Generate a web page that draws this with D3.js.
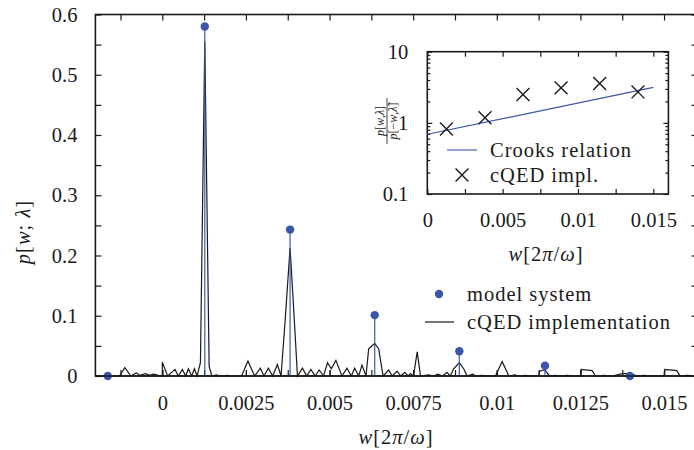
<!DOCTYPE html>
<html>
<head>
<meta charset="utf-8">
<script src="https://cdn.jsdelivr.net/npm/d3@7"></script>
<style>
  body { margin: 0; background: #fff; }
  svg text { font-family: "Liberation Serif", "Times New Roman", serif; font-size: 20.5px; fill: #1a1a1a; }
  svg text.lbl { letter-spacing: 1px; }
  .frac text { font-size: 12px; letter-spacing: 0; }
</style>
</head>
<body>
<div id="chart"></div>
<script>
// model system: discrete peaks
const modelW = [-0.00163, 0.00127, 0.00382, 0.00635, 0.00888, 0.01144, 0.01398];
const modelP = [0, 0.58, 0.243, 0.101, 0.041, 0.017, 0];

// cQED implementation: sampled curve
const cqedW = [-0.002, -0.00128, -0.00112, -0.00094, -0.00078, -0.00066, -0.00051, -0.00038, -0.00026, -0.00012,
  0, 0, 0.00016, 0.00038, 0.00048, 0.0006, 0.0007, 0.00078, 0.00088, 0.00096, 0.00104,
  0.00114, 0.00127, 0.0014, 0.00148, 0.00162, 0.00172, 0.00195, 0.0021, 0.00237, 0.00256, 0.00276,
  0.00293, 0.00304, 0.00317, 0.0033, 0.00344, 0.00355, 0.00367, 0.00382, 0.00396, 0.00404,
  0.00419, 0.00432, 0.00444, 0.00457, 0.00469, 0.00482, 0.00494, 0.00505, 0.00519, 0.00537,
  0.00552, 0.00565, 0.00575, 0.00587, 0.00597, 0.00609, 0.00617, 0.00635, 0.00647, 0.0066,
  0.00677, 0.00687, 0.00702, 0.00713, 0.00725, 0.00735, 0.00742, 0.00751, 0.00762, 0.00772,
  0.00796, 0.0081, 0.00824, 0.00838, 0.00851, 0.00861, 0.00871, 0.00888, 0.00901, 0.00911,
  0.00928, 0.00938, 0.00955, 0.00971, 0.00996, 0.01016, 0.01036, 0.01054, 0.01066, 0.01085, 0.01106,
  0.01125, 0.01128, 0.01143, 0.01158, 0.01175, 0.0119, 0.0121, 0.01235, 0.0125, 0.01252, 0.01285, 0.01295,
  0.0132, 0.01345, 0.01375, 0.01402, 0.01418, 0.0144, 0.0147, 0.015, 0.01502, 0.01538, 0.01548, 0.0157, 0.016];
const cqedP = [0, 0, 0.014, 0, 0.005, 0.001, 0.004, 0.001, 0.003, 0.001,
  0, 0.023, 0, 0.011, 0, 0.011, 0, 0.012, 0, 0.012, 0,
  0.022, 0.555, 0.016, 0, 0.002, 0, 0.001, 0, 0, 0.025, 0,
  0.013, 0, 0.013, 0, 0.019, 0, 0.09, 0.213, 0.08, 0,
  0.013, 0, 0.011, 0, 0.01, 0, 0.022, 0.012, 0.026, 0,
  0.013, 0, 0.013, 0, 0.018, 0, 0.045, 0.054, 0.045, 0,
  0.01, 0, 0.008, 0, 0.006, 0, 0.004, 0, 0.04, 0,
  0.002, 0, 0.003, 0, 0.006, 0, 0.012, 0.022, 0.012, 0,
  0.003, 0, 0.001, 0, 0, 0.024, 0, 0.002, 0, 0.001, 0,
  0, 0.008, 0.01, 0, 0.001, 0, 0.001, 0, 0, 0.011, 0.009, 0,
  0.001, 0, 0.004, 0.004, 0, 0.001, 0, 0, 0.011, 0.009, 0, 0.001, 0];

// inset: ratio p[w]/p[-w]
const crooksW = [0, 0.015];
const crooksR = [0.69, 3.15];
const ratioW = [0.00127, 0.00383, 0.00635, 0.00888, 0.01144, 0.01398];
const ratioR = [0.82, 1.18, 2.5, 3.1, 3.57, 2.72];

// ticks
const xTicks = [0, 0.0025, 0.005, 0.0075, 0.01, 0.0125, 0.015];
const xTickLabels = ["0", "0.0025", "0.005", "0.0075", "0.01", "0.0125", "0.015"];
const xMinor = [-0.00125, 0, 0.00125, 0.0025, 0.00375, 0.005, 0.00625, 0.0075, 0.00875, 0.01, 0.01125, 0.0125, 0.01375, 0.015];
const yTicks = [0, 0.1, 0.2, 0.3, 0.4, 0.5, 0.6];
const yTickLabels = ["0", "0.1", "0.2", "0.3", "0.4", "0.5", "0.6"];
const yMinor = [0.05, 0.15, 0.25, 0.35, 0.45, 0.55];
const inXTicks = [0, 0.005, 0.01, 0.015];
const inXTickLabels = ["0", "0.005", "0.01", "0.015"];
const inXMinor = [0.0025, 0.0075, 0.0125];
const inYTicks = [0.1, 1, 10];
const inYTickLabels = ["0.1", "1", "10"];
const inYMinor = [0.2, 0.3, 0.4, 0.5, 0.6, 0.7, 0.8, 0.9, 2, 3, 4, 5, 6, 7, 8, 9];

const blue = "#3b55a8";

const svg = d3.select("#chart").append("svg")
    .attr("width", 694)
    .attr("height", 450);

const x = d3.scaleLinear().domain([-0.002, 0.016]).range([95.4, 697.5]);
const y = d3.scaleLinear().domain([0, 0.6]).range([376, 14.5]);

function clean(g) {
    g.attr("font-family", null).attr("font-size", null);
    g.select(".domain").remove();
    g.selectAll("line").attr("stroke", "#1a1a1a").attr("stroke-width", 1.2);
}

function mathLabel(sel) {
    // w[2π/ω]
    sel.append("tspan").attr("font-style", "italic").text("w");
    sel.append("tspan").text("[2");
    sel.append("tspan").attr("font-style", "italic").text("π");
    sel.append("tspan").text("/");
    sel.append("tspan").attr("font-style", "italic").text("ω");
    sel.append("tspan").text("]");
}

// main axes
svg.append("g").attr("transform", "translate(0,376)")
    .call(d3.axisBottom(x).tickValues(xTicks).tickFormat((d, i) => xTickLabels[i]).tickSize(-6).tickPadding(19))
    .call(clean);
svg.append("g").attr("transform", "translate(0,376)")
    .call(d3.axisBottom(x).tickValues(xMinor).tickFormat("").tickSize(-6))
    .call(clean);
svg.append("g").attr("transform", "translate(0,14.5)")
    .call(d3.axisTop(x).tickValues(xMinor).tickFormat("").tickSize(-6))
    .call(clean);
svg.append("g").attr("transform", "translate(95.4,0)")
    .call(d3.axisLeft(y).tickValues(yTicks).tickFormat((d, i) => yTickLabels[i]).tickSize(-6).tickPadding(18))
    .call(clean);
svg.append("g").attr("transform", "translate(95.4,0)")
    .call(d3.axisLeft(y).tickValues(yMinor).tickFormat("").tickSize(-6))
    .call(clean);
svg.append("g").attr("transform", "translate(697.5,0)")
    .call(d3.axisRight(y).tickValues(yTicks.concat(yMinor)).tickFormat("").tickSize(-6))
    .call(clean);

svg.append("rect")
    .attr("x", x.range()[0]).attr("y", y.range()[1])
    .attr("width", x.range()[1] - x.range()[0])
    .attr("height", y.range()[0] - y.range()[1])
    .attr("fill", "none").attr("stroke", "#1a1a1a").attr("stroke-width", 1.6);

// cQED curve
const cqed = cqedW.map((w, i) => [w, cqedP[i]]);
svg.append("path")
    .datum(cqed)
    .attr("fill", "none")
    .attr("stroke", "#1a1a1a")
    .attr("stroke-width", 1.2)
    .attr("d", d3.line().x(d => x(d[0])).y(d => y(d[1])));

// model stems and dots
const model = modelW.map((w, i) => ({ w: w, p: modelP[i] }));
svg.append("g").selectAll("line").data(model).join("line")
    .attr("x1", d => x(d.w)).attr("x2", d => x(d.w))
    .attr("y1", y(0)).attr("y2", d => y(d.p))
    .attr("stroke", blue).attr("stroke-width", 1.3).attr("opacity", 0.9);
svg.append("g").selectAll("circle").data(model).join("circle")
    .attr("cx", d => x(d.w)).attr("cy", d => y(d.p))
    .attr("r", 4.2).attr("fill", blue);

// bottom axis line on top of the curve
svg.append("line")
    .attr("x1", x.range()[0]).attr("x2", x.range()[1])
    .attr("y1", 376).attr("y2", 376)
    .attr("stroke", "#1a1a1a").attr("stroke-width", 1.6);

// main legend
svg.append("circle").attr("cx", 439).attr("cy", 294).attr("r", 4.2).attr("fill", blue);
svg.append("text").attr("class", "lbl").attr("x", 467).attr("y", 294).attr("dy", "0.32em").text("model system");
svg.append("line").attr("x1", 425).attr("x2", 454).attr("y1", 322).attr("y2", 322)
    .attr("stroke", "#1a1a1a").attr("stroke-width", 1.2);
svg.append("text").attr("class", "lbl").attr("x", 467).attr("y", 322).attr("dy", "0.32em").text("cQED implementation");

// main axis labels
const yl = svg.append("text").attr("class", "lbl")
    .attr("transform", "translate(30,232) rotate(-90)")
    .attr("text-anchor", "middle");
yl.append("tspan").attr("font-style", "italic").text("p");
yl.append("tspan").text("[");
yl.append("tspan").attr("font-style", "italic").text("w");
yl.append("tspan").text("; ");
yl.append("tspan").attr("font-style", "italic").text("λ");
yl.append("tspan").text("]");

svg.append("text").attr("class", "lbl")
    .attr("x", 396).attr("y", 437).attr("dy", "0.32em")
    .attr("text-anchor", "middle")
    .call(mathLabel);

// ---- inset ----
const ix = d3.scaleLinear().domain([0, 0.016]).range([427.3, 668.4]);
const iy = d3.scaleLog().domain([0.1, 10]).range([194, 51.7]);

svg.append("rect")
    .attr("x", ix.range()[0]).attr("y", iy.range()[1])
    .attr("width", ix.range()[1] - ix.range()[0])
    .attr("height", iy.range()[0] - iy.range()[1])
    .attr("fill", "#fff");

svg.append("g").attr("transform", "translate(0,194)")
    .call(d3.axisBottom(ix).tickValues(inXTicks).tickFormat((d, i) => inXTickLabels[i]).tickSize(-5).tickPadding(18))
    .call(clean);
svg.append("g").attr("transform", "translate(0,194)")
    .call(d3.axisBottom(ix).tickValues(inXMinor).tickFormat("").tickSize(-5))
    .call(clean);
svg.append("g").attr("transform", "translate(0,51.7)")
    .call(d3.axisTop(ix).tickValues(inXTicks.concat(inXMinor)).tickFormat("").tickSize(-5))
    .call(clean);
svg.append("g").attr("transform", "translate(427.3,0)")
    .call(d3.axisLeft(iy).tickValues(inYTicks).tickFormat((d, i) => inYTickLabels[i]).tickSize(-5).tickPadding(19))
    .call(clean);
svg.append("g").attr("transform", "translate(427.3,0)")
    .call(d3.axisLeft(iy).tickValues(inYMinor).tickFormat("").tickSize(-3))
    .call(clean);
svg.append("g").attr("transform", "translate(668.4,0)")
    .call(d3.axisRight(iy).tickValues(inYTicks).tickFormat("").tickSize(-5))
    .call(clean);
svg.append("g").attr("transform", "translate(668.4,0)")
    .call(d3.axisRight(iy).tickValues(inYMinor).tickFormat("").tickSize(-3))
    .call(clean);

svg.append("rect")
    .attr("x", ix.range()[0]).attr("y", iy.range()[1])
    .attr("width", ix.range()[1] - ix.range()[0])
    .attr("height", iy.range()[0] - iy.range()[1])
    .attr("fill", "none").attr("stroke", "#1a1a1a").attr("stroke-width", 1.6);

const crooks = crooksW.map((w, i) => [w, crooksR[i]]);
svg.append("path")
    .datum(crooks)
    .attr("fill", "none")
    .attr("stroke", blue)
    .attr("stroke-width", 1.1)
    .attr("d", d3.line().x(d => ix(d[0])).y(d => iy(d[1])));

const cross = d3.symbol().type(d3.symbolX).size(110);
svg.append("g").selectAll("path").data(ratioW.map((w, i) => [w, ratioR[i]])).join("path")
    .attr("transform", d => "translate(" + ix(d[0]) + "," + iy(d[1]) + ")")
    .attr("d", cross)
    .attr("fill", "none").attr("stroke", "#1a1a1a").attr("stroke-width", 1.4);

// inset legend
svg.append("line").attr("x1", 447).attr("x2", 477).attr("y1", 150).attr("y2", 150)
    .attr("stroke", blue).attr("stroke-width", 1.1);
svg.append("text").attr("class", "lbl").attr("x", 490).attr("y", 150).attr("dy", "0.32em").text("Crooks relation");
svg.append("path").attr("transform", "translate(462,175)").attr("d", cross)
    .attr("fill", "none").attr("stroke", "#1a1a1a").attr("stroke-width", 1.4);
svg.append("text").attr("class", "lbl").attr("x", 490).attr("y", 175).attr("dy", "0.32em").text("cQED impl.");

// inset axis labels
svg.append("text").attr("class", "lbl")
    .attr("x", 546).attr("y", 254).attr("dy", "0.32em")
    .attr("text-anchor", "middle")
    .call(mathLabel);

const frac = svg.append("g").attr("class", "frac")
    .attr("transform", "translate(387,121) rotate(-90)");
const num = frac.append("text").attr("text-anchor", "middle").attr("y", -3);
num.append("tspan").attr("font-style", "italic").text("p");
num.append("tspan").text("[");
num.append("tspan").attr("font-style", "italic").text("w");
num.append("tspan").text(",");
num.append("tspan").attr("font-style", "italic").text("λ");
num.append("tspan").text("]");
frac.append("line").attr("x1", -23).attr("x2", 23).attr("y1", 0).attr("y2", 0)
    .attr("stroke", "#1a1a1a").attr("stroke-width", 0.8);
const den = frac.append("text").attr("text-anchor", "middle").attr("y", 10);
den.append("tspan").attr("font-style", "italic").text("p");
den.append("tspan").text("[−");
den.append("tspan").attr("font-style", "italic").text("w");
den.append("tspan").text(",");
den.append("tspan").attr("font-style", "italic").text("λ̃");
den.append("tspan").text("]");
</script>
</body>
</html>
